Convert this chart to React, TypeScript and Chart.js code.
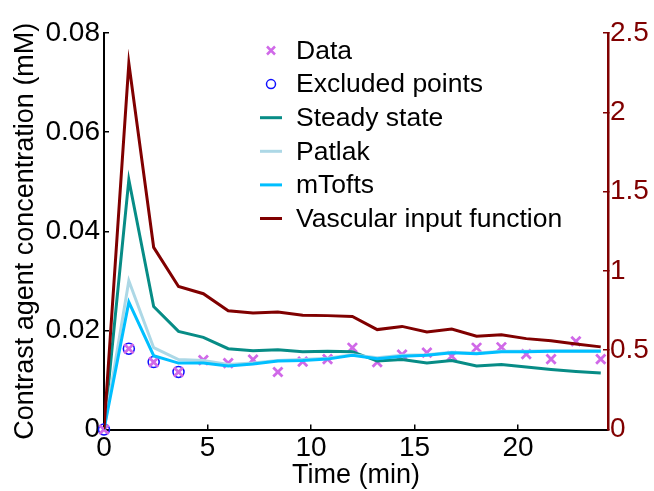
import React, { useEffect, useRef } from 'react';
import { Chart, registerables } from 'chart.js';

Chart.register(...registerables);

// ---- data ----
const timeMin = [0, 1.2, 2.4, 3.6, 4.8, 6.0, 7.2, 8.4, 9.6, 10.8, 12.0, 13.2, 14.4, 15.6, 16.8, 18.0, 19.2, 20.4, 21.6, 22.8, 24.0];
const dataConc = [0, 0.0163, 0.0136, 0.0116, 0.014, 0.0134, 0.0141, 0.0116, 0.0137, 0.0142, 0.0165, 0.0136, 0.0151, 0.0155, 0.0148, 0.0165, 0.0166, 0.0152, 0.0142, 0.0178, 0.0142];
const excludedIndex = [0, 1, 2, 3];
const steadyState = [0, 0.0504, 0.0248, 0.0198, 0.0186, 0.0163, 0.0159, 0.0161, 0.0157, 0.0158, 0.0157, 0.0138, 0.0141, 0.0134, 0.0139, 0.0128, 0.0131, 0.0126, 0.0121, 0.0117, 0.0114];
const patlak = [0, 0.03, 0.0165, 0.0141, 0.0139, 0.0131, 0.0134, 0.0139, 0.0141, 0.0144, 0.0151, 0.0145, 0.015, 0.0151, 0.0156, 0.0154, 0.0158, 0.0158, 0.0159, 0.0159, 0.0159];
const mTofts = [0, 0.0257, 0.0149, 0.0134, 0.0134, 0.0128, 0.0132, 0.0138, 0.0139, 0.0142, 0.015, 0.0143, 0.0148, 0.015, 0.0155, 0.0153, 0.0157, 0.0157, 0.0158, 0.0158, 0.0158];
const vascularInput = [0, 2.309, 1.148, 0.902, 0.856, 0.749, 0.735, 0.741, 0.721, 0.718, 0.713, 0.63, 0.65, 0.615, 0.634, 0.588, 0.598, 0.573, 0.56, 0.539, 0.521];

const xTicks = [0, 5, 10, 15, 20];
const xTickLabels = ['0', '5', '10', '15', '20'];
const leftTicks = [0, 0.02, 0.04, 0.06, 0.08];
const leftTickLabels = ['0', '0.02', '0.04', '0.06', '0.08'];
const rightTicks = [0, 0.5, 1, 1.5, 2, 2.5];
const rightTickLabels = ['0', '0.5', '1', '1.5', '2', '2.5'];

const FONT = '"Liberation Sans", Arial, Helvetica, sans-serif';
const MAROON = '#800000';

const pts = (ys: number[]) => ys.map((y, i) => ({ x: timeMin[i], y }));

const legendPlugin = {
  id: 'insideLegend',
  afterDraw(chart: any) {
    const ctx = chart.ctx as CanvasRenderingContext2D;
    const ds = chart.data.datasets as any[];
    ctx.save();
    ctx.font = `26.5px ${FONT}`;
    ctx.textBaseline = 'middle';
    ds.forEach((d, i) => {
      const y = 50.5 + i * 33.6;
      const cx = 271;
      if (d.showLine === false) {
        ctx.strokeStyle = d.borderColor;
        ctx.lineWidth = d.pointStyle === 'crossRot' ? 2.5 : 1.5;
        ctx.beginPath();
        if (d.pointStyle === 'crossRot') {
          const r = 4;
          ctx.moveTo(cx - r, y - r);
          ctx.lineTo(cx + r, y + r);
          ctx.moveTo(cx + r, y - r);
          ctx.lineTo(cx - r, y + r);
        } else {
          ctx.arc(cx, y, 4.5, 0, Math.PI * 2);
        }
        ctx.stroke();
      } else {
        ctx.strokeStyle = d.borderColor;
        ctx.lineWidth = 3;
        ctx.beginPath();
        ctx.moveTo(260, y);
        ctx.lineTo(282, y);
        ctx.stroke();
      }
      ctx.fillStyle = '#000';
      ctx.fillText(d.label, 296, y + 1);
    });
    ctx.restore();
  },
};

export default function App() {
  const ref = useRef<HTMLCanvasElement | null>(null);
  useEffect(() => {
    if (!ref.current) return;
    const chart = new Chart(ref.current, {
      type: 'line',
      data: {
        datasets: [
          {
            label: 'Data',
            data: pts(dataConc),
            showLine: false,
            pointStyle: 'crossRot',
            pointRadius: 6.5,
            pointBorderWidth: 2.8,
            borderColor: '#d069e8',
            backgroundColor: '#d069e8',
            yAxisID: 'y',
            order: 8,
            clip: false,
          },
          {
            label: 'Excluded points',
            data: excludedIndex.map((i) => ({ x: timeMin[i], y: dataConc[i] })),
            showLine: false,
            pointStyle: 'circle',
            pointRadius: 5.5,
            pointBorderWidth: 1.5,
            borderColor: '#1010ff',
            backgroundColor: 'rgba(0,0,0,0)',
            yAxisID: 'y',
            order: 9,
            clip: false,
          },
          {
            label: 'Steady state',
            data: pts(steadyState),
            borderColor: '#078c86',
            borderWidth: 3,
            pointRadius: 0,
            yAxisID: 'y',
            order: 4,
          },
          {
            label: 'Patlak',
            data: pts(patlak),
            borderColor: '#add8e6',
            borderWidth: 3,
            pointRadius: 0,
            yAxisID: 'y',
            order: 3,
          },
          {
            label: 'mTofts',
            data: pts(mTofts),
            borderColor: '#00bfff',
            borderWidth: 3,
            pointRadius: 0,
            yAxisID: 'y',
            order: 2,
          },
          {
            label: 'Vascular input function',
            data: pts(vascularInput),
            borderColor: MAROON,
            borderWidth: 3,
            pointRadius: 0,
            yAxisID: 'y2',
            order: 1,
          },
        ],
      },
      options: {
        animation: false,
        responsive: false,
        devicePixelRatio: 1,
        layout: { padding: { top: 33, left: 0, right: 0, bottom: 0 } },
        plugins: { legend: { display: false }, tooltip: { enabled: false } },
        elements: { line: { tension: 0 } },
        scales: {
          x: {
            type: 'linear',
            min: 0,
            max: 24.35,
            afterBuildTicks: (s: any) => { s.ticks = xTicks.map((v) => ({ value: v })); },
            afterFit: (s: any) => { s.height = 61.5; },
            ticks: {
              color: '#000',
              font: { family: FONT, size: 28 },
              padding: 7,
              maxRotation: 0,
              autoSkip: false,
              callback: (_v: any, i: number) => xTickLabels[i],
            },
            grid: { drawOnChartArea: false, drawTicks: true, tickLength: -5, color: '#000', lineWidth: 1.5 },
            border: { display: true, color: '#000', width: 2 },
            title: {
              display: true,
              text: 'Time (min)',
              color: '#000',
              font: { family: FONT, size: 27, lineHeight: 1 },
              padding: { top: 0, bottom: 2 },
            },
          },
          y: {
            type: 'linear',
            position: 'left',
            min: 0,
            max: 0.08,
            afterBuildTicks: (s: any) => { s.ticks = leftTicks.map((v) => ({ value: v })); },
            afterFit: (s: any) => { s.width = 104; },
            ticks: {
              color: '#000',
              font: { family: FONT, size: 28 },
              padding: 9,
              autoSkip: false,
              callback: (_v: any, i: number) => leftTickLabels[i],
            },
            grid: { drawOnChartArea: false, drawTicks: true, tickLength: -5, color: '#000', lineWidth: 1.5 },
            border: { display: true, color: '#000', width: 2 },
            title: {
              display: true,
              text: 'Contrast agent concentration (mM)',
              color: '#000',
              font: { family: FONT, size: 27, lineHeight: 1 },
              padding: { top: 12, bottom: 0 },
            },
          },
          y2: {
            type: 'linear',
            position: 'right',
            min: 0,
            max: 2.5,
            afterBuildTicks: (s: any) => { s.ticks = rightTicks.map((v) => ({ value: v })); },
            afterFit: (s: any) => { s.width = 46; },
            ticks: {
              color: MAROON,
              font: { family: FONT, size: 28 },
              padding: 7,
              autoSkip: false,
              callback: (_v: any, i: number) => rightTickLabels[i],
            },
            grid: { drawOnChartArea: false, drawTicks: true, tickLength: -5, color: MAROON, lineWidth: 1.5 },
            border: { display: true, color: MAROON, width: 2.5 },
          },
        },
      },
      plugins: [legendPlugin],
    } as any);
    return () => chart.destroy();
  }, []);
  return (
    <div style={{ position: 'absolute', left: 0, top: 0, width: 654, height: 491, background: '#fff' }}>
      <canvas ref={ref} width={654} height={491} style={{ width: 654, height: 491, display: 'block' }} />
    </div>
  );
}
